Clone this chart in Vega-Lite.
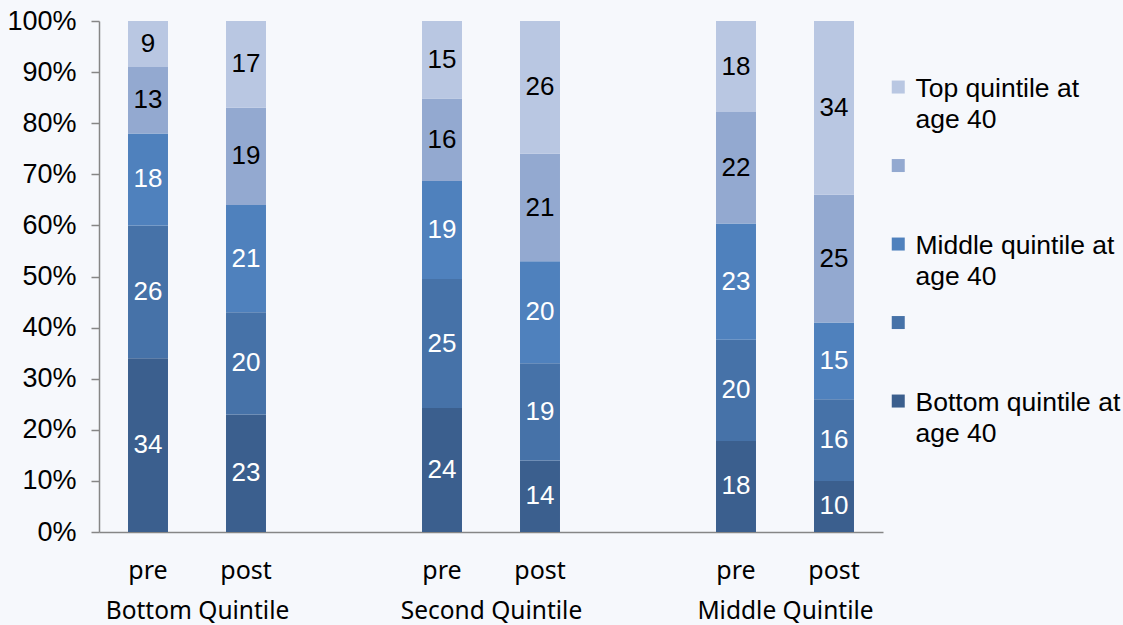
{
  "$schema": "https://vega.github.io/schema/vega-lite/v6.json",
  "width": 784,
  "height": 511,
  "autosize": "none",
  "padding": {"left": 99, "top": 21, "right": 240, "bottom": 93},
  "background": "#f6f8fc",
  "config": {
    "view": {"stroke": null},
    "font": "Liberation Sans",
    "style": {"guide-label": {"lineHeight": 31}}
  },
  "data": {
    "values": [
      {"group": "Bottom Quintile", "period": "pre", "bar": "Bottom Quintile pre", "quintile": "Bottom quintile at age 40", "rank": 1, "value": 34},
      {"group": "Bottom Quintile", "period": "pre", "bar": "Bottom Quintile pre", "quintile": "Second quintile at age 40", "rank": 2, "value": 26},
      {"group": "Bottom Quintile", "period": "pre", "bar": "Bottom Quintile pre", "quintile": "Middle quintile at age 40", "rank": 3, "value": 18},
      {"group": "Bottom Quintile", "period": "pre", "bar": "Bottom Quintile pre", "quintile": "Fourth quintile at age 40", "rank": 4, "value": 13},
      {"group": "Bottom Quintile", "period": "pre", "bar": "Bottom Quintile pre", "quintile": "Top quintile at age 40", "rank": 5, "value": 9},
      {"group": "Bottom Quintile", "period": "post", "bar": "Bottom Quintile post", "quintile": "Bottom quintile at age 40", "rank": 1, "value": 23},
      {"group": "Bottom Quintile", "period": "post", "bar": "Bottom Quintile post", "quintile": "Second quintile at age 40", "rank": 2, "value": 20},
      {"group": "Bottom Quintile", "period": "post", "bar": "Bottom Quintile post", "quintile": "Middle quintile at age 40", "rank": 3, "value": 21},
      {"group": "Bottom Quintile", "period": "post", "bar": "Bottom Quintile post", "quintile": "Fourth quintile at age 40", "rank": 4, "value": 19},
      {"group": "Bottom Quintile", "period": "post", "bar": "Bottom Quintile post", "quintile": "Top quintile at age 40", "rank": 5, "value": 17},
      {"group": "Second Quintile", "period": "pre", "bar": "Second Quintile pre", "quintile": "Bottom quintile at age 40", "rank": 1, "value": 24},
      {"group": "Second Quintile", "period": "pre", "bar": "Second Quintile pre", "quintile": "Second quintile at age 40", "rank": 2, "value": 25},
      {"group": "Second Quintile", "period": "pre", "bar": "Second Quintile pre", "quintile": "Middle quintile at age 40", "rank": 3, "value": 19},
      {"group": "Second Quintile", "period": "pre", "bar": "Second Quintile pre", "quintile": "Fourth quintile at age 40", "rank": 4, "value": 16},
      {"group": "Second Quintile", "period": "pre", "bar": "Second Quintile pre", "quintile": "Top quintile at age 40", "rank": 5, "value": 15},
      {"group": "Second Quintile", "period": "post", "bar": "Second Quintile post", "quintile": "Bottom quintile at age 40", "rank": 1, "value": 14},
      {"group": "Second Quintile", "period": "post", "bar": "Second Quintile post", "quintile": "Second quintile at age 40", "rank": 2, "value": 19},
      {"group": "Second Quintile", "period": "post", "bar": "Second Quintile post", "quintile": "Middle quintile at age 40", "rank": 3, "value": 20},
      {"group": "Second Quintile", "period": "post", "bar": "Second Quintile post", "quintile": "Fourth quintile at age 40", "rank": 4, "value": 21},
      {"group": "Second Quintile", "period": "post", "bar": "Second Quintile post", "quintile": "Top quintile at age 40", "rank": 5, "value": 26},
      {"group": "Middle Quintile", "period": "pre", "bar": "Middle Quintile pre", "quintile": "Bottom quintile at age 40", "rank": 1, "value": 18},
      {"group": "Middle Quintile", "period": "pre", "bar": "Middle Quintile pre", "quintile": "Second quintile at age 40", "rank": 2, "value": 20},
      {"group": "Middle Quintile", "period": "pre", "bar": "Middle Quintile pre", "quintile": "Middle quintile at age 40", "rank": 3, "value": 23},
      {"group": "Middle Quintile", "period": "pre", "bar": "Middle Quintile pre", "quintile": "Fourth quintile at age 40", "rank": 4, "value": 22},
      {"group": "Middle Quintile", "period": "pre", "bar": "Middle Quintile pre", "quintile": "Top quintile at age 40", "rank": 5, "value": 18},
      {"group": "Middle Quintile", "period": "post", "bar": "Middle Quintile post", "quintile": "Bottom quintile at age 40", "rank": 1, "value": 10},
      {"group": "Middle Quintile", "period": "post", "bar": "Middle Quintile post", "quintile": "Second quintile at age 40", "rank": 2, "value": 16},
      {"group": "Middle Quintile", "period": "post", "bar": "Middle Quintile post", "quintile": "Middle quintile at age 40", "rank": 3, "value": 15},
      {"group": "Middle Quintile", "period": "post", "bar": "Middle Quintile post", "quintile": "Fourth quintile at age 40", "rank": 4, "value": 25},
      {"group": "Middle Quintile", "period": "post", "bar": "Middle Quintile post", "quintile": "Top quintile at age 40", "rank": 5, "value": 34}
    ]
  },
  "layer": [
    {
      "encoding": {
        "x": {
          "field": "bar",
          "type": "nominal",
          "sort": null,
          "scale": {
            "domain": ["Bottom Quintile pre", "Bottom Quintile post", "gap1", "Second Quintile pre", "Second Quintile post", "gap2", "Middle Quintile pre", "Middle Quintile post"],
            "paddingInner": 0.592,
            "paddingOuter": 0.296
          },
          "axis": {
            "title": null,
            "orient": "bottom",
            "labelAngle": 0,
            "labelExpr": "indexof(datum.label, ' ') < 0 ? '' : slice(datum.label, lastindexof(datum.label, ' ') + 1)",
            "labelFont": "Noto Sans",
            "labelFontSize": 25,
            "labelColor": "#000000",
            "labelPadding": 26,
            "ticks": false,
            "domainColor": "#868686",
            "domainWidth": 1.5,
            "grid": false
          }
        },
        "y": {
          "field": "value",
          "type": "quantitative",
          "stack": "normalize",
          "scale": {"domain": [0, 1]},
          "axis": {
            "title": null,
            "values": [0, 0.1, 0.2, 0.3, 0.4, 0.5, 0.6, 0.7, 0.8, 0.9, 1],
            "format": ".0%",
            "labelFont": "Liberation Sans",
            "labelFontSize": 27,
            "labelColor": "#000000",
            "labelPadding": 15,
            "tickSize": 8,
            "tickColor": "#868686",
            "tickWidth": 1.5,
            "domainColor": "#868686",
            "domainWidth": 1.5,
            "grid": false
          }
        },
        "order": {"field": "rank", "type": "quantitative"}
      },
      "layer": [
        {
          "mark": {"type": "bar"},
          "encoding": {
            "color": {
              "field": "quintile",
              "type": "nominal",
              "scale": {
                "domain": ["Top quintile at age 40", "Fourth quintile at age 40", "Middle quintile at age 40", "Second quintile at age 40", "Bottom quintile at age 40"],
                "range": ["#b9c7e2", "#93a9d0", "#4f81bd", "#4672a8", "#3b5f8e"]
              },
              "legend": {
                "title": null,
                "orient": "none",
                "legendX": 786,
                "legendY": 42,
                "padding": 0,
                "symbolType": "M-1,0.66H1V2.66H-1Z",
                "symbolSize": 169,
                "symbolStrokeWidth": 0,
                "symbolOpacity": 1,
                "labelFont": "Liberation Sans",
                "labelFontSize": 26.5,
                "labelColor": "#000000",
                "labelBaseline": "top",
                "labelLimit": 0,
                "labelOffset": 4,
                "gridAlign": "all",
                "rowPadding": 7.5,
                "labelExpr": "indexof(datum.label, 'Fourth') == 0 || indexof(datum.label, 'Second') == 0 ? '' : [slice(datum.label, 0, indexof(datum.label, ' age')), 'age 40']"
              }
            }
          }
        },
        {
          "mark": {"type": "text", "font": "Liberation Sans", "fontSize": 26, "baseline": "middle", "align": "center"},
          "encoding": {
            "y": {"field": "value", "type": "quantitative", "stack": "normalize", "bandPosition": 0.5},
            "text": {"field": "value", "type": "quantitative"},
            "color": {"condition": {"test": "datum.rank <= 3", "value": "#ffffff"}, "value": "#000000"}
          }
        }
      ]
    },
    {
      "mark": {"type": "point", "opacity": 0},
      "encoding": {
        "x": {
          "field": "group",
          "type": "nominal",
          "sort": ["Bottom Quintile", "Second Quintile", "Middle Quintile"],
          "scale": {"type": "point", "padding": 0.3333},
          "axis": {
            "title": null,
            "orient": "bottom",
            "labelAngle": 0,
            "labelFont": "Noto Sans",
            "labelFontSize": 24.5,
            "labelColor": "#000000",
            "labelPadding": 67,
            "labelLimit": 0,
            "ticks": false,
            "domain": false,
            "grid": false
          }
        }
      }
    }
  ],
  "resolve": {"scale": {"x": "independent"}, "axis": {"x": "independent"}}
}
